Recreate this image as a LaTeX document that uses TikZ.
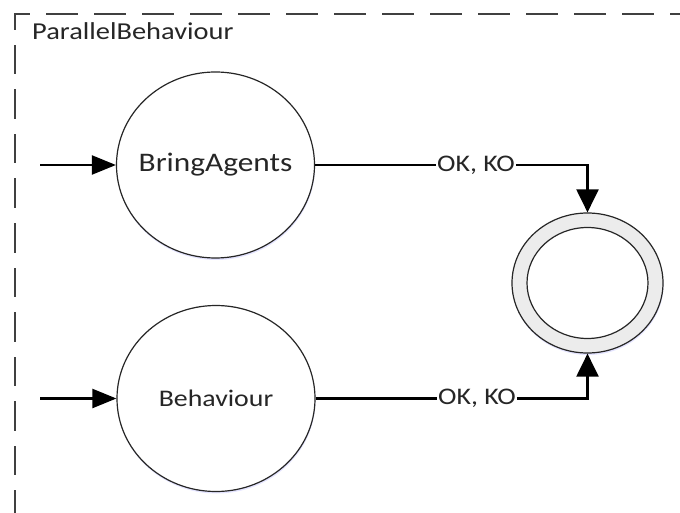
\documentclass[tikz,border=0pt]{standalone}
\usepackage{fontspec}
\setmainfont{Carlito}[FakeStretch=1.17]
\usetikzlibrary{shapes.geometric,arrows.meta,shadows}

\begin{document}
\begin{tikzpicture}[x=1pt,y=-1pt,
  glow/.style={drop shadow={shadow xshift=0.5pt, shadow yshift=-2pt,
      fill=blue!30!white, opacity=0.35}},
  state/.style={ellipse, draw=black!85, line width=1.2pt, fill=white,
    minimum width=198pt, minimum height=186pt, inner sep=0pt, glow},
  statename/.style={text=black!85, inner sep=0pt},
  flow/.style={line width=2.2pt, draw=black},
  tipin/.style={-{Triangle[length=24pt,width=19pt]}},
  tipfin/.style={-{Triangle[length=23pt,width=22pt]}},
  lbl/.style={font=\fontsize{23.8}{28}\selectfont, text=black!85, inner sep=1pt},
  frame/.style={line width=2pt, draw=black!75, line cap=rect}]

\useasboundingbox (0,0) rectangle (680,513);

% dashed border of the composite state
\coordinate (corner) at (15,14);
\coordinate (frameright) at (700,14);
\coordinate (framebottom) at (15,540);
\draw[frame, dash pattern=on 30pt off 18pt, dash phase=16pt] (corner) -- (frameright);
\draw[frame, dash pattern=on 27.5pt off 17pt, dash phase=12.5pt] (corner) -- (framebottom);
\node[lbl, font=\fontsize{24.3}{28}\selectfont, anchor=base west, inner sep=0pt] (title) at (32,40) {ParallelBehaviour};

% sub-states
\node[state] (bring) at (215.5,165) {};
\node[statename, font=\fontsize{26.8}{32}\selectfont] (bringname) at (bring.center) {BringAgents};
\node[state] (beh) at (216,398.5) {};
\node[statename, font=\fontsize{23.8}{28}\selectfont] (behname) at (beh.center) {Behaviour};

% final state
\node[ellipse, draw=black!85, line width=1.2pt, fill=gray!15,
  minimum width=151pt, minimum height=140pt, inner sep=0pt, glow] (fin) at (587.5,283) {};
\node[ellipse, draw=black!85, line width=1.2pt, fill=white,
  minimum width=121pt, minimum height=111pt, inner sep=0pt] (fininner) at (fin.center) {};

% entry arrows
\coordinate (in1) at (40,165);
\coordinate (in2) at (40,398.5);
\draw[flow, tipin] (in1) -- (bring.west);
\draw[flow, tipin] (in2) -- (beh.west);

% exit transitions
\node[lbl] (ok1) at (476,165) {OK, KO};
\node[lbl] (ok2) at (477,398.5) {OK, KO};
\draw[flow] (bring.east) -- (ok1.west);
\draw[flow, tipfin] (ok1.east) -| (fin.north);
\draw[flow] (beh.east) -- (ok2.west);
\draw[flow, tipfin] (ok2.east) -| (fin.south);
\end{tikzpicture}
\end{document}
